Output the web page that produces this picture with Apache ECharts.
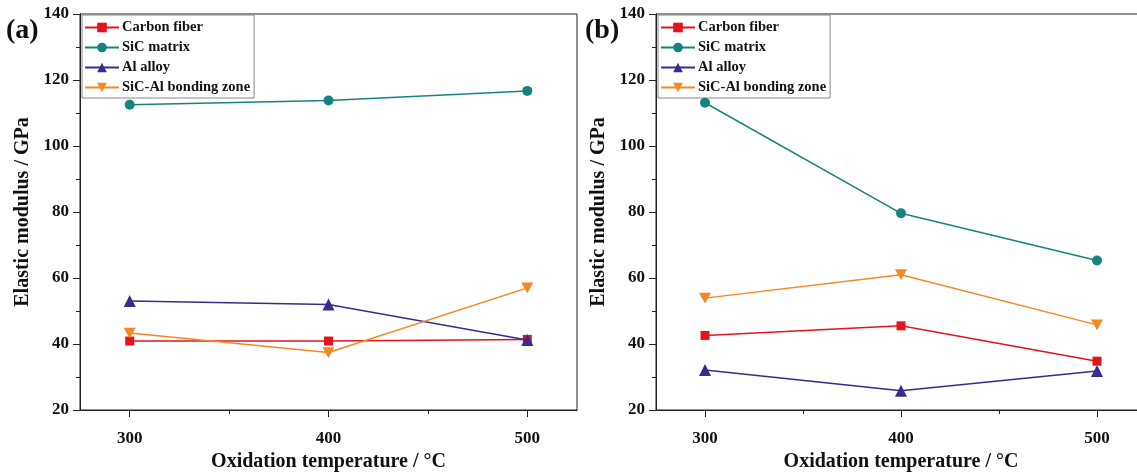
<!DOCTYPE html>
<html>
<head>
<meta charset="utf-8">
<script src="https://cdn.jsdelivr.net/npm/echarts@6/dist/echarts.min.js"></script>
<style>
html, body { margin: 0; padding: 0; background: #fff; }
#chart { width: 1137px; height: 476px; }
</style>
</head>
<body>
<div id="chart"></div>
<script>
var temps = [300, 400, 500];
var seriesNames = ['Carbon fiber', 'SiC matrix', 'Al alloy', 'SiC-Al bonding zone'];

// panel (a)
var carbonA = [40.9, 40.9, 41.4];
var sicA = [112.5, 113.8, 116.7];
var alA = [53.0, 52.0, 41.2];
var bondA = [43.3, 37.4, 57.0];

// panel (b)
var carbonB = [42.6, 45.5, 34.8];
var sicB = [113.1, 79.6, 65.3];
var alB = [32.1, 25.8, 31.8];
var bondB = [53.9, 61.0, 45.8];

var colors = ['#e3141b', '#17837f', '#3a2a8c', '#f5881f'];
var symbols = ['rect', 'circle', 'triangle', 'path://M0,0 L10,0 L5,9 Z'];
var font = "'Times New Roman', 'Liberation Serif', serif";

var chart = echarts.init(document.getElementById('chart'));

function pairs(vals) {
    return temps.map(function (t, i) { return [t, vals[i]]; });
}

function makeSeries(dataSets, gridIdx) {
    return dataSets.map(function (vals, i) {
        return {
            name: seriesNames[i],
            type: 'line',
            xAxisIndex: gridIdx * 2,
            yAxisIndex: gridIdx,
            data: pairs(vals),
            symbol: symbols[i],
            symbolSize: i === 1 ? 10 : (i === 0 ? 9 : 12),
            symbolKeepAspect: true,
            lineStyle: { color: colors[i], width: 1.5 },
            itemStyle: { color: colors[i] },
            z: 3 + i
        };
    });
}

function xAxes(gridIdx) {
    return [{
        type: 'value',
        gridIndex: gridIdx,
        position: 'bottom',
        min: 275,
        max: 525,
        name: 'Oxidation temperature / \u00b0C',
        nameLocation: 'middle',
        nameGap: 42,
        nameTextStyle: { fontFamily: font, fontWeight: 'bold', fontSize: 20, color: '#111' },
        axisLine: { lineStyle: { color: '#222', width: 1 } },
        axisTick: { customValues: [300, 400, 500], length: 7, lineStyle: { color: '#222' } },
        axisLabel: { customValues: [300, 400, 500], margin: 20, fontFamily: font, fontWeight: 'bold', fontSize: 17, color: '#111' },
        splitLine: { show: false }
    }, {
        type: 'value',
        gridIndex: gridIdx,
        position: 'bottom',
        offset: 0,
        min: 275,
        max: 525,
        axisLine: { show: false },
        axisTick: { customValues: [350, 450], length: 4, lineStyle: { color: '#222' } },
        axisLabel: { show: false },
        splitLine: { show: false }
    }];
}

function yAxis(gridIdx) {
    return {
        type: 'value',
        gridIndex: gridIdx,
        min: 20,
        max: 140,
        interval: 20,
        name: 'Elastic modulus / GPa',
        nameLocation: 'middle',
        nameGap: 47,
        nameTextStyle: { fontFamily: font, fontWeight: 'bold', fontSize: 20, color: '#111' },
        axisLine: { show: true, lineStyle: { color: '#222', width: 1 } },
        axisTick: { show: true, length: 7, lineStyle: { color: '#222' } },
        minorTick: { show: true, splitNumber: 2, length: 4, lineStyle: { color: '#222' } },
        axisLabel: { margin: 11, fontFamily: font, fontWeight: 'bold', fontSize: 17, color: '#111' },
        splitLine: { show: false }
    };
}

function legend(left) {
    return {
        orient: 'vertical',
        left: left,
        top: 15,
        data: seriesNames,
        itemWidth: 34,
        itemHeight: 12,
        itemGap: 5,
        padding: [5, 4, 3, 2],
        borderColor: '#888',
        borderWidth: 1,
        selectedMode: false,
        textStyle: { fontFamily: font, fontWeight: 'bold', fontSize: 14.5, color: '#111', padding: [0, 0, 0, -2] }
    };
}

var option = {
    backgroundColor: '#fff',
    animation: false,
    grid: [
        { left: 80, width: 497, top: 14, bottom: 66, outerBoundsMode: 'none', show: true, borderColor: '#222', borderWidth: 1 },
        { left: 656, width: 490, top: 14, bottom: 66, outerBoundsMode: 'none', show: true, borderColor: '#222', borderWidth: 1 }
    ],
    xAxis: xAxes(0).concat(xAxes(1)),
    yAxis: [yAxis(0), yAxis(1)],
    legend: [legend(82), legend(658)],
    graphic: [
        { type: 'text', left: 6, top: 17, style: { text: '(a)', fontFamily: font, fontWeight: 'bold', fontSize: 28, fill: '#111' } },
        { type: 'text', left: 585, top: 17, style: { text: '(b)', fontFamily: font, fontWeight: 'bold', fontSize: 28, fill: '#111' } }
    ],
    series: makeSeries([carbonA, sicA, alA, bondA], 0).concat(makeSeries([carbonB, sicB, alB, bondB], 1))
};

chart.setOption(option);
</script>
</body>
</html>
